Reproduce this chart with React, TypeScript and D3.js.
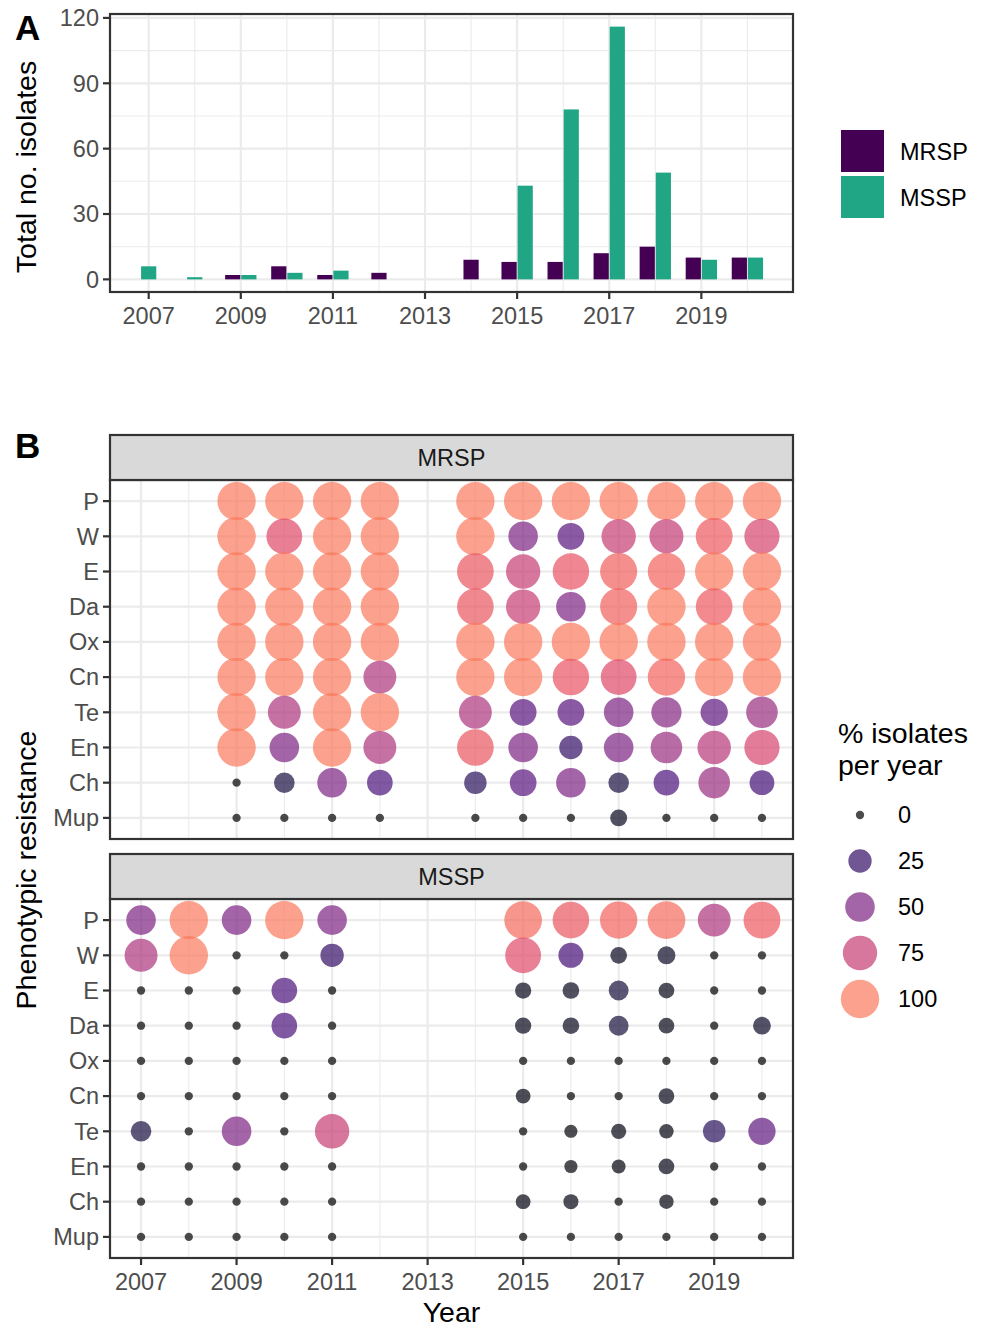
import React from "react";
import * as d3 from "d3";

// ---------- DATA ----------
const years = [2007, 2008, 2009, 2010, 2011, 2012, 2013, 2014, 2015, 2016, 2017, 2018, 2019, 2020];
const mrspTotals = [0, 0, 2, 6, 2, 3, 0, 9, 8, 8, 12, 15, 10, 10];
const msspTotals = [6, 1, 2, 3, 4, 0, 0, 0, 43, 78, 116, 49, 9, 10];
const yTicksA = [0, 30, 60, 90, 120];
const yMinorA = [15, 45, 75, 105];
const xMajorYears = [2007, 2009, 2011, 2013, 2015, 2017, 2019];
const xMinorYears = [2008, 2010, 2012, 2014, 2016, 2018, 2020];
const groups = ["MRSP", "MSSP"];

const drugs = ["P", "W", "E", "Da", "Ox", "Cn", "Te", "En", "Ch", "Mup"];

const mrspPctYears = [2009, 2010, 2011, 2012, 2014, 2015, 2016, 2017, 2018, 2019, 2020];
const mrspPct = [
  [100, 100, 100, 100, 100, 100, 100, 100, 100, 100, 100], // P
  [100, 83.3, 100, 100, 100, 50, 37.5, 75, 73.3, 90, 80], // W
  [100, 100, 100, 100, 88.9, 75, 87.5, 91.7, 93.3, 100, 100], // E
  [100, 100, 100, 100, 88.9, 75, 50, 91.7, 100, 90, 100], // Da
  [100, 100, 100, 100, 100, 100, 100, 100, 100, 100, 100], // Ox
  [100, 100, 100, 66.7, 100, 100, 87.5, 83.3, 93.3, 100, 100], // Cn
  [100, 66.7, 100, 100, 66.7, 37.5, 37.5, 50, 53.3, 40, 60], // Te
  [100, 50, 100, 66.7, 88.9, 50, 25, 50, 60, 70, 80], // En
  [0, 16.7, 50, 33.3, 22.2, 37.5, 50, 16.7, 33.3, 60, 30], // Ch
  [0, 0, 0, 0, 0, 0, 0, 8.3, 0, 0, 0], // Mup
];

const msspPctYears = [2007, 2008, 2009, 2010, 2011, 2015, 2016, 2017, 2018, 2019, 2020];
const msspPct = [
  [50, 100, 50, 100, 50, 95.3, 88.5, 93.1, 95.9, 66.7, 90], // P
  [66.7, 100, 0, 0, 25, 83.7, 30.8, 7.8, 10.2, 0, 0], // W
  [0, 0, 0, 33.3, 0, 7, 7.7, 14.7, 6.1, 0, 0], // E
  [0, 0, 0, 33.3, 0, 7, 7.7, 14.7, 6.1, 0, 10], // Da
  [0, 0, 0, 0, 0, 0, 0, 0, 0, 0, 0], // Ox
  [0, 0, 0, 0, 0, 4.7, 0, 0, 6.1, 0, 0], // Cn
  [16.7, 0, 50, 0, 75, 0, 2.6, 5.2, 4.1, 22.2, 40], // Te
  [0, 0, 0, 0, 0, 0, 2.6, 3.4, 6.1, 0, 0], // En
  [0, 0, 0, 0, 0, 4.7, 5.1, 0, 4.1, 0, 0], // Ch
  [0, 0, 0, 0, 0, 0, 0, 0, 0, 0, 0], // Mup
];

const legendPct = [0, 25, 50, 75, 100];

// ---------- STYLE ----------
const FONT = "'Liberation Sans', Arial, Helvetica, sans-serif";
const TICK_FS = 23.5;
const TITLE_FS = 28.5;
const GRID = "#EBEBEB";
const BORDER = "#333333";
const TICKTXT = "#4D4D4D";
const barColors = ["#440154", "#21A685"];

const sizeScale = d3.scaleSqrt().domain([0, 100]).range([4.15, 19.2]);
const colorOf = (p: number) => d3.interpolateMagma(0.72 * p / 100);

export default function App() {
  // Panel A geometry
  const aL = 110, aR = 793, aT = 14, aB = 292;
  const xA = d3.scaleLinear().domain([2006.16, 2020.99]).range([aL, aR]);
  const maxA = d3.max([...mrspTotals, ...msspTotals]) as number;
  const yA = d3.scaleLinear().domain([-0.05 * maxA, maxA * 1.05]).range([aB, aT]);
  const barW = 0.33, gap = 0.02;

  const bars: { x: number; w: number; y: number; h: number; c: string }[] = [];
  years.forEach((yr, i) => {
    const vals = [mrspTotals[i], msspTotals[i]];
    const present = vals.map((v) => v > 0);
    const both = present[0] && present[1];
    vals.forEach((v, g) => {
      if (v <= 0) return;
      let x0: number;
      if (both) x0 = g === 0 ? yr - barW - gap / 2 : yr + gap / 2;
      else x0 = yr - barW / 2;
      const px0 = xA(x0), px1 = xA(x0 + barW);
      bars.push({ x: px0, w: px1 - px0, y: yA(v), h: yA(0) - yA(v), c: barColors[g] });
    });
  });

  // Panel B geometry
  const bL = 110, bR = 793;
  const xB = d3.scaleLinear().domain([2006.35, 2020.65]).range([bL, bR]);
  const facets = [
    { name: "MRSP", stripT: 435, top: 480, bottom: 839, yrs: mrspPctYears, pct: mrspPct },
    { name: "MSSP", stripT: 854, top: 899, bottom: 1258, yrs: msspPctYears, pct: msspPct },
  ];

  return (
    <svg width={987} height={1327} style={{ position: "absolute", left: 0, top: 0, background: "#fff" }} fontFamily={FONT}>
      <rect x={0} y={0} width={987} height={1327} fill="#fff" />
      {/* ---------- Panel A ---------- */}
      <text x={15} y={40} fontSize={35} fontWeight="bold" fill="#000">A</text>
      <g>
        {yMinorA.map((v) => (
          <line key={"ym" + v} x1={aL} x2={aR} y1={yA(v)} y2={yA(v)} stroke={GRID} strokeWidth={1.1} />
        ))}
        {xMinorYears.map((v) => (
          <line key={"xm" + v} x1={xA(v)} x2={xA(v)} y1={aT} y2={aB} stroke={GRID} strokeWidth={1.1} />
        ))}
        {yTicksA.map((v) => (
          <line key={"yM" + v} x1={aL} x2={aR} y1={yA(v)} y2={yA(v)} stroke={GRID} strokeWidth={2.2} />
        ))}
        {xMajorYears.map((v) => (
          <line key={"xM" + v} x1={xA(v)} x2={xA(v)} y1={aT} y2={aB} stroke={GRID} strokeWidth={2.2} />
        ))}
        {bars.map((b, i) => (
          <rect key={"b" + i} x={b.x} y={b.y} width={b.w} height={b.h} fill={b.c} />
        ))}
        <rect x={aL} y={aT} width={aR - aL} height={aB - aT} fill="none" stroke={BORDER} strokeWidth={2.2} />
        {yTicksA.map((v) => (
          <g key={"yt" + v}>
            <line x1={aL - 7} x2={aL} y1={yA(v)} y2={yA(v)} stroke={BORDER} strokeWidth={2.2} />
            <text x={aL - 11} y={yA(v) + 8.4} fontSize={TICK_FS} fill={TICKTXT} textAnchor="end">{v}</text>
          </g>
        ))}
        {xMajorYears.map((v) => (
          <g key={"xt" + v}>
            <line x1={xA(v)} x2={xA(v)} y1={aB} y2={aB + 7} stroke={BORDER} strokeWidth={2.2} />
            <text x={xA(v)} y={323.5} fontSize={TICK_FS} fill={TICKTXT} textAnchor="middle">{v}</text>
          </g>
        ))}
        <text transform={`translate(36,167) rotate(-90)`} fontSize={TITLE_FS} textAnchor="middle" fill="#000">
          Total no. isolates
        </text>
        {/* legend A */}
        {groups.map((g, i) => (
          <g key={"lg" + g}>
            <rect x={841} y={130 + i * 46} width={43} height={42} fill={barColors[i]} />
            <text x={900} y={160.4 + i * 46} fontSize={TICK_FS} fill="#000">{g}</text>
          </g>
        ))}
      </g>

      {/* ---------- Panel B ---------- */}
      <text x={15} y={458} fontSize={35} fontWeight="bold" fill="#000">B</text>
      {facets.map((f) => {
        const yB = d3.scalePoint<string>().domain(drugs).range([f.top, f.bottom]).padding(0.6);
        const pts: { x: number; y: number; p: number }[] = [];
        f.pct.forEach((row, di) => {
          row.forEach((p, yi) => {
            pts.push({ x: xB(f.yrs[yi]), y: yB(drugs[di]) as number, p });
          });
        });
        return (
          <g key={f.name}>
            {xMinorYears.map((v) => (
              <line key={"bxm" + v} x1={xB(v)} x2={xB(v)} y1={f.top} y2={f.bottom} stroke={GRID} strokeWidth={1.1} />
            ))}
            {xMajorYears.map((v) => (
              <line key={"bxM" + v} x1={xB(v)} x2={xB(v)} y1={f.top} y2={f.bottom} stroke={GRID} strokeWidth={2.2} />
            ))}
            {drugs.map((d) => (
              <line key={"byM" + d} x1={bL} x2={bR} y1={yB(d)} y2={yB(d)} stroke={GRID} strokeWidth={2.2} />
            ))}
            {pts.map((pt, i) => (
              <circle key={"c" + i} cx={pt.x} cy={pt.y} r={sizeScale(pt.p)} fill={colorOf(pt.p)} fillOpacity={0.7} />
            ))}
            <rect x={bL} y={f.top} width={bR - bL} height={f.bottom - f.top} fill="none" stroke={BORDER} strokeWidth={2.2} />
            <rect x={bL} y={f.stripT} width={bR - bL} height={f.top - f.stripT} fill="#D9D9D9" stroke={BORDER} strokeWidth={2.2} />
            <text x={(bL + bR) / 2} y={(f.stripT + f.top) / 2 + 8.4} fontSize={TICK_FS} fill="#1A1A1A" textAnchor="middle">
              {f.name}
            </text>
            {drugs.map((d) => (
              <g key={"byt" + d}>
                <line x1={bL - 7} x2={bL} y1={yB(d)} y2={yB(d)} stroke={BORDER} strokeWidth={2.2} />
                <text x={bL - 11} y={(yB(d) as number) + 8.4} fontSize={TICK_FS} fill={TICKTXT} textAnchor="end">{d}</text>
              </g>
            ))}
          </g>
        );
      })}
      {xMajorYears.map((v) => (
        <g key={"bxt" + v}>
          <line x1={xB(v)} x2={xB(v)} y1={1258} y2={1265} stroke={BORDER} strokeWidth={2.2} />
          <text x={xB(v)} y={1289.5} fontSize={TICK_FS} fill={TICKTXT} textAnchor="middle">{v}</text>
        </g>
      ))}
      <text x={(bL + bR) / 2} y={1322} fontSize={TITLE_FS} textAnchor="middle" fill="#000">Year</text>
      <text transform={`translate(36,870) rotate(-90)`} fontSize={TITLE_FS} textAnchor="middle" fill="#000">
        Phenotypic resistance
      </text>

      {/* legend B */}
      <text x={838} y={743} fontSize={TITLE_FS} fill="#000">% isolates</text>
      <text x={838} y={775} fontSize={TITLE_FS} fill="#000">per year</text>
      {legendPct.map((p, i) => (
        <g key={"lb" + p}>
          <circle cx={860} cy={815 + i * 46} r={sizeScale(p)} fill={colorOf(p)} fillOpacity={0.7} />
          <text x={898} y={815 + i * 46 + 8.4} fontSize={TICK_FS} fill="#000">{p}</text>
        </g>
      ))}
    </svg>
  );
}
